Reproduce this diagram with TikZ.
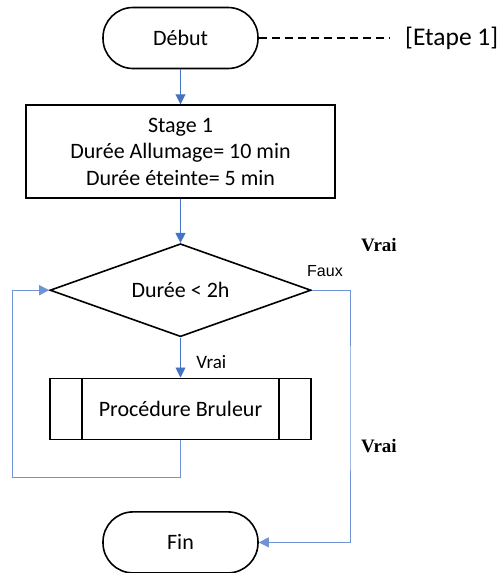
\documentclass[tikz,border=0pt]{standalone}
\usepackage{fontspec}
\setmainfont{Carlito}
\newfontfamily\arialfont{Liberation Sans}
\newfontfamily\timesfont{Liberation Serif}
\usetikzlibrary{arrows.meta,positioning,shapes.geometric}
\definecolor{ink}{HTML}{000000}
\definecolor{link}{HTML}{4472C4}
\definecolor{wire}{HTML}{6F94D6}
\tikzset{
 term/.style={draw=ink,line width=1.6pt,rounded corners=30pt,minimum width=155pt,minimum height=61pt,font=\fontsize{22}{26}\selectfont},
 box/.style={draw=ink,line width=1.6pt,minimum width=309pt,minimum height=93pt,align=center,font=\fontsize{22}{26.5}\selectfont},
 test/.style={draw=ink,line width=1.6pt,diamond,aspect=2.8,inner sep=0pt,minimum width=261pt,minimum height=93pt,font=\fontsize{22}{26}\selectfont},
 proc/.style={draw=ink,line width=1.6pt,minimum width=261pt,minimum height=61pt,font=\fontsize{22}{26}\selectfont},
 flow/.style={-{Triangle[length=10pt,width=10pt]},draw=link,line width=.9pt},
 wireline/.style={draw=wire,line width=.9pt},
 lab/.style={font=\fontsize{19}{21}\selectfont},
 stray/.style={font=\timesfont\bfseries\fontsize{19}{21}\selectfont,inner sep=0pt}
}
\begin{document}
\begin{tikzpicture}[x=1pt,y=-1pt,node distance=36pt]
  \useasboundingbox (0,0) rectangle (502,573);

  \node[term] (debut) at (180.5,38) {Début};
  \node[box,below=35pt of debut] (stage) {Stage 1\\Durée Allumage= 10 min\\Durée éteinte= 5 min};
  \node[test,below=44pt of stage] (cond) {Durée < 2h};
  \node[proc,below=40pt of cond] (bruleur) {Procédure Bruleur};
  \draw[ink,line width=1.6pt] ([xshift=33pt]bruleur.north west) -- ([xshift=33pt]bruleur.south west);
  \draw[ink,line width=1.6pt] ([xshift=-33pt]bruleur.north east) -- ([xshift=-33pt]bruleur.south east);
  \node[term,below=71pt of bruleur] (fin) {Fin};

  % annotation
  \node[inner sep=0pt,anchor=west,font=\fontsize{25.5}{28}\selectfont] (etape) at (405,38) {[Etape 1]};
  \draw[ink,line width=1.2pt,dash pattern=on 8pt off 5pt] (debut.east) -- ([xshift=-16pt]etape.west);

  \draw[flow] (debut) -- (stage);
  \draw[flow] (stage) -- (cond);
  \draw[flow] (cond) -- (bruleur) node[lab,pos=.62,right=12pt] (vrai) {Vrai};

  % boucle
  \coordinate (back) at (12,477);
  \draw[wireline] (bruleur.south) |- (back);
  \draw[flow,draw=wire] (back) |- (cond.west);

  % sortie
  \coordinate (out) at (350,400);
  \draw[flow,draw=wire] (cond.east) -| (out) |- (fin.east);
  \node[font=\arialfont\fontsize{16}{18}\selectfont,anchor=south] (faux) at (325,280) {Faux};

  \begin{scope}
    \clip (355,230) rectangle (405,250.5);
    \node[stray,anchor=base west] (vraiA) at (361,251) {Vrai};
  \end{scope}
  \begin{scope}
    \clip (355,430) rectangle (405,452);
    \node[stray,anchor=base west] (vraiB) at (361,452.5) {Vrai};
  \end{scope}
\end{tikzpicture}
\end{document}
